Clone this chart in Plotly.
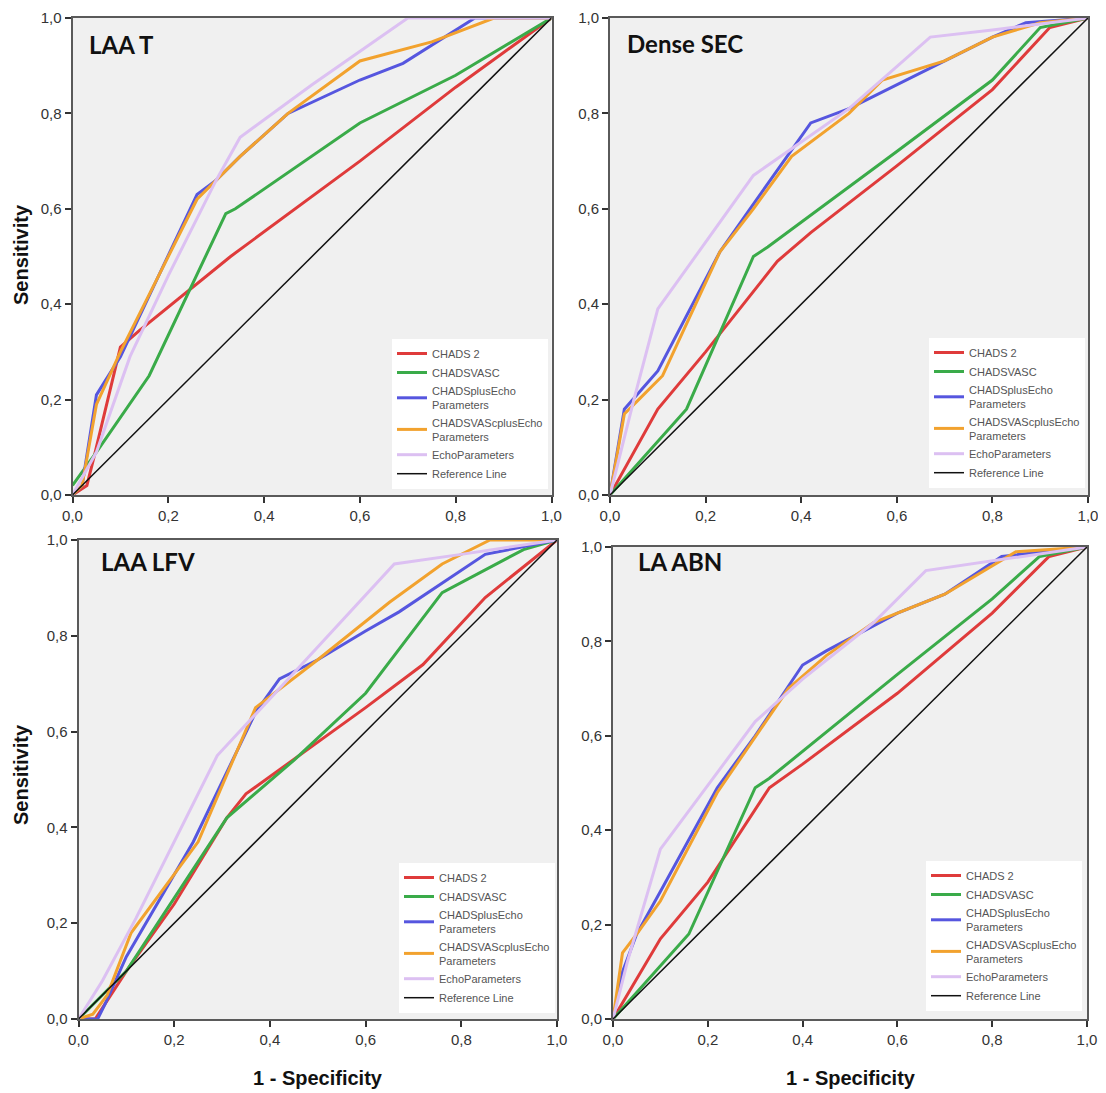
import plotly.graph_objects as go

# ---------------- data ----------------
PANEL_TITLES = ["LAA T", "Dense SEC", "LAA LFV", "LA ABN"]
SERIES_NAMES = ["CHADS 2", "CHADSVASC", "CHADSplusEcho<br>Parameters",
                "CHADSVAScplusEcho<br>Parameters", "EchoParameters"]
REF_NAME = "Reference Line"
REF_X = [0, 1]
REF_Y = [0, 1]
TICKS = [0.0, 0.2, 0.4, 0.6, 0.8, 1.0]
TICK_LABELS = ["0,0", "0,2", "0,4", "0,6", "0,8", "1,0"]

# LAA T
laat_chads2_x = [0, 0.03, 0.045, 0.10, 0.14, 0.33, 0.60, 0.80, 1.0]
laat_chads2_y = [0, 0.02, 0.08, 0.31, 0.345, 0.50, 0.70, 0.855, 1.0]
laat_vasc_x = [0, 0.05, 0.16, 0.32, 0.34, 0.60, 0.80, 1.0]
laat_vasc_y = [0.02, 0.09, 0.25, 0.59, 0.60, 0.78, 0.88, 1.0]
laat_chadsecho_x = [0, 0.02, 0.05, 0.10, 0.26, 0.30, 0.35, 0.45, 0.60, 0.69, 0.84, 1.0]
laat_chadsecho_y = [0, 0.02, 0.21, 0.29, 0.63, 0.66, 0.71, 0.80, 0.87, 0.905, 1.0, 1.0]
laat_vascecho_x = [0, 0.02, 0.05, 0.10, 0.26, 0.35, 0.45, 0.60, 0.75, 0.88, 1.0]
laat_vascecho_y = [0, 0.02, 0.19, 0.30, 0.62, 0.71, 0.80, 0.91, 0.95, 1.0, 1.0]
laat_echo_x = [0, 0.05, 0.12, 0.20, 0.30, 0.35, 0.50, 0.70, 1.0]
laat_echo_y = [0, 0.09, 0.29, 0.46, 0.66, 0.75, 0.86, 1.0, 1.0]

# Dense SEC
sec_chads2_x = [0, 0.10, 0.20, 0.35, 0.42, 0.60, 0.80, 0.92, 1.0]
sec_chads2_y = [0, 0.18, 0.30, 0.49, 0.55, 0.69, 0.85, 0.98, 1.0]
sec_vasc_x = [0, 0.16, 0.30, 0.33, 0.60, 0.80, 0.90, 1.0]
sec_vasc_y = [0, 0.18, 0.50, 0.52, 0.72, 0.87, 0.98, 1.0]
sec_chadsecho_x = [0, 0.03, 0.10, 0.23, 0.30, 0.42, 0.50, 0.60, 0.70, 0.80, 0.87, 1.0]
sec_chadsecho_y = [0, 0.18, 0.26, 0.51, 0.61, 0.78, 0.81, 0.86, 0.91, 0.96, 0.99, 1.0]
sec_vascecho_x = [0, 0.03, 0.06, 0.11, 0.23, 0.30, 0.38, 0.50, 0.57, 0.70, 0.80, 0.90, 1.0]
sec_vascecho_y = [0, 0.17, 0.20, 0.25, 0.51, 0.60, 0.71, 0.80, 0.87, 0.91, 0.96, 0.99, 1.0]
sec_echo_x = [0, 0.05, 0.10, 0.30, 0.40, 0.50, 0.67, 0.80, 1.0]
sec_echo_y = [0, 0.20, 0.39, 0.67, 0.74, 0.81, 0.96, 0.975, 1.0]

# LAA LFV
lfv_chads2_x = [0, 0.035, 0.10, 0.20, 0.31, 0.35, 0.60, 0.72, 0.85, 1.0]
lfv_chads2_y = [0, 0.0, 0.10, 0.24, 0.42, 0.47, 0.65, 0.74, 0.88, 1.0]
lfv_vasc_x = [0, 0.10, 0.31, 0.45, 0.60, 0.76, 0.93, 1.0]
lfv_vasc_y = [0, 0.10, 0.42, 0.54, 0.68, 0.89, 0.98, 1.0]
lfv_chadsecho_x = [0, 0.04, 0.055, 0.10, 0.24, 0.37, 0.42, 0.50, 0.60, 0.67, 0.85, 1.0]
lfv_chadsecho_y = [0, 0.0, 0.03, 0.13, 0.37, 0.64, 0.71, 0.75, 0.81, 0.85, 0.97, 1.0]
lfv_vascecho_x = [0, 0.03, 0.06, 0.11, 0.25, 0.37, 0.50, 0.65, 0.76, 0.86, 1.0]
lfv_vascecho_y = [0, 0.01, 0.05, 0.18, 0.37, 0.65, 0.75, 0.87, 0.95, 1.0, 1.0]
lfv_echo_x = [0, 0.05, 0.12, 0.29, 0.42, 0.66, 0.80, 1.0]
lfv_echo_y = [0, 0.08, 0.21, 0.55, 0.69, 0.95, 0.97, 1.0]

# LA ABN
abn_chads2_x = [0, 0.10, 0.20, 0.33, 0.40, 0.60, 0.80, 0.92, 1.0]
abn_chads2_y = [0, 0.17, 0.29, 0.49, 0.54, 0.69, 0.86, 0.98, 1.0]
abn_vasc_x = [0, 0.16, 0.30, 0.33, 0.60, 0.80, 0.90, 1.0]
abn_vasc_y = [0, 0.18, 0.49, 0.51, 0.73, 0.89, 0.98, 1.0]
abn_chadsecho_x = [0, 0.02, 0.05, 0.10, 0.22, 0.30, 0.40, 0.45, 0.60, 0.70, 0.82, 1.0]
abn_chadsecho_y = [0, 0.10, 0.18, 0.27, 0.49, 0.60, 0.75, 0.78, 0.86, 0.90, 0.98, 1.0]
abn_vascecho_x = [0, 0.02, 0.05, 0.10, 0.22, 0.37, 0.45, 0.55, 0.70, 0.85, 1.0]
abn_vascecho_y = [0, 0.14, 0.18, 0.25, 0.48, 0.70, 0.77, 0.84, 0.90, 0.99, 1.0]
abn_echo_x = [0, 0.03, 0.10, 0.30, 0.40, 0.55, 0.66, 0.80, 1.0]
abn_echo_y = [0, 0.12, 0.36, 0.63, 0.72, 0.84, 0.95, 0.97, 1.0]

PANEL_SERIES = [
    [(laat_chads2_x, laat_chads2_y), (laat_vasc_x, laat_vasc_y), (laat_chadsecho_x, laat_chadsecho_y),
     (laat_vascecho_x, laat_vascecho_y), (laat_echo_x, laat_echo_y)],
    [(sec_chads2_x, sec_chads2_y), (sec_vasc_x, sec_vasc_y), (sec_chadsecho_x, sec_chadsecho_y),
     (sec_vascecho_x, sec_vascecho_y), (sec_echo_x, sec_echo_y)],
    [(lfv_chads2_x, lfv_chads2_y), (lfv_vasc_x, lfv_vasc_y), (lfv_chadsecho_x, lfv_chadsecho_y),
     (lfv_vascecho_x, lfv_vascecho_y), (lfv_echo_x, lfv_echo_y)],
    [(abn_chads2_x, abn_chads2_y), (abn_vasc_x, abn_vasc_y), (abn_chadsecho_x, abn_chadsecho_y),
     (abn_vascecho_x, abn_vascecho_y), (abn_echo_x, abn_echo_y)],
]

# ---------------- style ----------------
W, H = 1106, 1093          # window size
OFF = 8                    # default page body margin
FW, FH = W - OFF, H - OFF  # figure size so it fits the window


def px_x(X):
    return (X - OFF) / FW


def px_y(Y):
    return 1 - (Y - OFF) / FH


SANS = "Arial, Liberation Sans, sans-serif"
COLORS = ["#df3b3b", "#3aab49", "#5656df", "#f2a22e", "#dcc0f2"]
# panel boxes in window pixels: (x0, x1, ytop, ybottom)
BOXES = [(72.5, 551.5, 18, 495), (610, 1088, 18, 495),
         (78.5, 557, 540, 1019), (613, 1087, 547, 1019)]
LEGEND_POS = [(548, 489), (1085, 488), (555, 1013), (1082, 1011)]
TITLE_POS = [(0.03, 0.944), (0.032, 0.946), (0.042, 0.956), (0.048, 0.97)]

fig = go.Figure()

for p in range(4):
    sfx = "" if p == 0 else str(p + 1)
    xa, ya = "x" + sfx, "y" + sfx
    leg = "legend" + sfx
    for i, (xs, ys) in enumerate(PANEL_SERIES[p]):
        fig.add_trace(go.Scatter(x=xs, y=ys, mode="lines", name=SERIES_NAMES[i],
                                 line=dict(color=COLORS[i], width=3),
                                 xaxis=xa, yaxis=ya, legend=leg))
    fig.add_trace(go.Scatter(x=REF_X, y=REF_Y, mode="lines", name=REF_NAME,
                             line=dict(color="#111111", width=1.5),
                             xaxis=xa, yaxis=ya, legend=leg))

    x0, x1, yt, yb = BOXES[p]
    axis_common = dict(range=[0, 1], tickvals=TICKS, ticktext=TICK_LABELS,
                       automargin=False, ticklabeloverflow="allow",
                       showgrid=False, zeroline=False, showline=True, mirror=True,
                       linecolor="#5a5a5a", linewidth=2, ticks="outside", ticklen=6,
                       tickcolor="#333333", tickwidth=1.5,
                       tickfont=dict(family=SANS, size=15, color="#333333"))
    fig.update_layout(**{
        "xaxis" + sfx: dict(domain=[px_x(x0), px_x(x1)], anchor=ya, **axis_common),
        "yaxis" + sfx: dict(domain=[px_y(yb), px_y(yt)], anchor=xa, **axis_common),
    })
    lx, ly = LEGEND_POS[p]
    fig.update_layout(**{
        leg: dict(x=px_x(lx), y=px_y(ly), xanchor="right", yanchor="bottom",
                  bgcolor="white", borderwidth=0, tracegroupgap=0,
                  font=dict(family=SANS, size=11, color="#555555"),
                  itemwidth=30)
    })
    tx, ty = TITLE_POS[p]
    fig.add_annotation(text="<b>" + PANEL_TITLES[p] + "</b>", xref=xa + " domain", yref=ya + " domain",
                       x=tx, y=ty, xanchor="left", yanchor="middle", showarrow=False,
                       font=dict(family="Lato, Open Sans", size=24, color="#111111"))

# axis titles
for yc in (255, 775):
    fig.add_annotation(text="<b>Sensitivity</b>", xref="paper", yref="paper",
                       x=px_x(21), y=px_y(yc), textangle=-90, showarrow=False,
                       xanchor="center", yanchor="middle",
                       font=dict(family=SANS, size=20, color="#111111"))
for xc in (318, 851):
    fig.add_annotation(text="<b>1 - Specificity</b>", xref="paper", yref="paper",
                       x=px_x(xc), y=px_y(1078), showarrow=False,
                       xanchor="center", yanchor="middle",
                       font=dict(family=SANS, size=20, color="#111111"))

fig.update_layout(width=FW, height=FH, margin=dict(l=0, r=0, t=0, b=0),
                  paper_bgcolor="white", plot_bgcolor="#f0f0f0", showlegend=True)

fig.write_html("out.html")
